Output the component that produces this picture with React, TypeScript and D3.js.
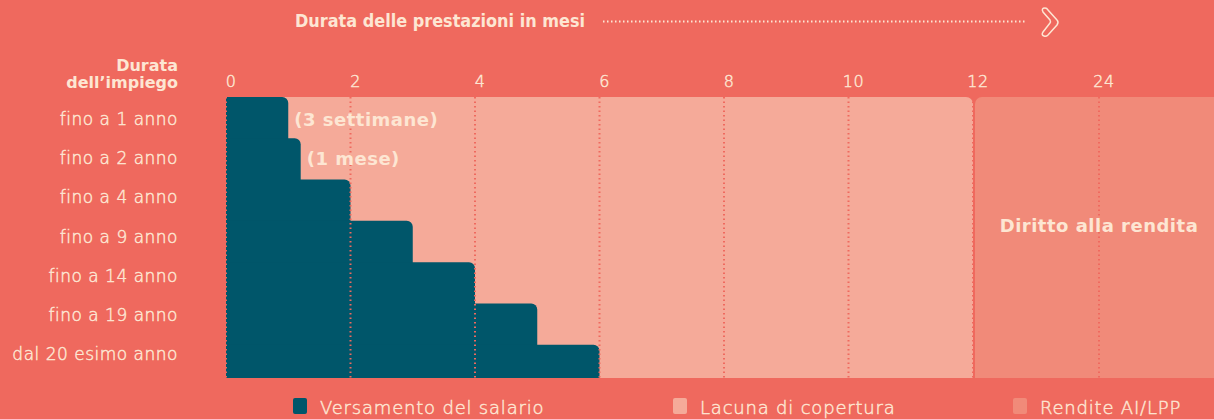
import * as d3 from 'd3';

const categories = [
  'fino a 1 anno',
  'fino a 2 anno',
  'fino a 4 anno',
  'fino a 9 anno',
  'fino a 14 anno',
  'fino a 19 anno',
  'dal 20 esimo anno',
];
// months of salary payment per row
const salaryMonths = [1, 1.2, 2, 3, 4, 5, 6];
const barNotes = ['(3 settimane)', '(1 mese)', '', '', '', '', ''];
const tickValues = [0, 2, 4, 6, 8, 10, 12, 24];
const coverageEnd = 12;

const legendItems = [
  { label: 'Versamento del salario', color: '#00566a' },
  { label: 'Lacuna di copertura', color: '#f5aa99' },
  { label: 'Rendite AI/LPP', color: '#f18a79' },
];

const W = 1214;
const H = 419;
const BG = '#ef695e';
const CREAM = '#fde6d3';
const top = 97;
const bottom = 378;

// rectangle with optional rounded top corners
const roundRect = (x0: number, y0: number, x1: number, y1: number, rl: number, rr: number) => {
  const p = d3.path();
  p.moveTo(x0, y1);
  p.lineTo(x0, y0 + rl);
  if (rl) p.arcTo(x0, y0, x0 + rl, y0, rl);
  p.lineTo(x1 - rr, y0);
  if (rr) p.arcTo(x1, y0, x1, y0 + rr, rr);
  p.lineTo(x1, y1);
  p.closePath();
  return p.toString();
};

export default function App() {
  const x = d3.scaleLinear().domain([0, 12, 24, 36]).range([226, 973, 1099, 1225]);
  const labelY = d3.scaleBand<string>().domain(categories).range([99.5, 373.5]);
  const barY = d3.scaleBand<string>().domain(categories).range([97, 386]);

  const wideFont = "'DejaVu Sans', sans-serif";
  const condFont = "'DejaVu Sans Condensed', 'DejaVu Sans', sans-serif";
  // light text: thin weight thickened slightly with a stroke
  const light = { fill: CREAM, stroke: CREAM, strokeWidth: 0.45, fontFamily: wideFont, fontWeight: 200 };

  return (
    <div style={{ position: 'fixed', left: 0, top: 0 }}>
      <svg width={W} height={H} style={{ display: 'block' }}>
        <rect width={W} height={H} fill={BG} />

        {/* header */}
        <text x={295} y={27} fill={CREAM} fontFamily={condFont} fontWeight={700} fontSize={17.5}
          textLength={290} lengthAdjust="spacingAndGlyphs">
          Durata delle prestazioni in mesi
        </text>
        <line x1={603} x2={1025} y1={21.5} y2={21.5} stroke={CREAM} strokeWidth={2}
          strokeDasharray="1.5,2.5" />
        <path d="M1043,12 Q1041,8 1045,8 Q1047,8 1048,10 L1057,20 Q1059,22 1057,25 L1048,35 Q1046,37 1044,36 Q1041,35 1043,32 L1050,23 Q1051,22 1050,20 Z"
          fill="none" stroke={CREAM} strokeWidth={1.5} />

        {/* y-axis header */}
        <text x={178} y={71} textAnchor="end" fill={CREAM} fontFamily={wideFont} fontWeight={700} fontSize={16}>
          Durata
        </text>
        <text x={178} y={88} textAnchor="end" fill={CREAM} fontFamily={wideFont} fontWeight={700} fontSize={16}>
          dell’impiego
        </text>

        {/* x ticks */}
        {tickValues.map((t) => (
          <text key={t} x={x(t) + 5} y={87} textAnchor="middle" {...light} fontSize={16}
            letterSpacing={0.5}>
            {t}
          </text>
        ))}

        {/* background areas */}
        <path d={roundRect(x(0), top, x(coverageEnd), bottom, 0, 7)} fill="#f5aa99" />
        <path d={roundRect(x(coverageEnd) + 2, top, W + 10, bottom, 7, 0)} fill="#f18a79" />

        {/* salary bars */}
        {categories.map((c, i) => (
          <path key={c}
            d={roundRect(x(0), i === 0 ? top : (barY(c) as number), x(salaryMonths[i]), bottom, 0, 6)}
            fill="#00566a" />
        ))}

        {/* dotted grid */}
        {tickValues.map((t) => (
          <line key={t} x1={x(t)} x2={x(t)} y1={top} y2={bottom}
            stroke={BG} strokeWidth={2} strokeDasharray="1.5,3" />
        ))}

        {/* category labels */}
        {categories.map((c) => (
          <text key={c} x={178} y={(labelY(c) as number) + labelY.bandwidth() / 2 + 6}
            textAnchor="end" {...light} fontSize={17} letterSpacing={0.5}>
            {c}
          </text>
        ))}

        {/* notes */}
        {categories.map((c, i) =>
          barNotes[i] ? (
            <text key={c} x={x(salaryMonths[i]) + 6}
              y={(labelY(c) as number) + labelY.bandwidth() / 2 + 7}
              fill={CREAM} fontFamily={wideFont} fontWeight={700} fontSize={18} letterSpacing={0.5}>
              {barNotes[i]}
            </text>
          ) : null
        )}

        <text x={1099} y={232} textAnchor="middle" fill={CREAM} fontFamily={wideFont}
          fontWeight={700} fontSize={18} letterSpacing={0.5}>
          Diritto alla rendita
        </text>

        {/* legend */}
        {legendItems.map((it, i) => {
          const lx = [293, 673, 1013][i];
          return (
            <g key={it.label}>
              <rect x={lx} y={398} width={14} height={16} rx={2} fill={it.color} />
              <text x={lx + 27} y={414} {...light} fontSize={18} letterSpacing={0.8}>
                {it.label}
              </text>
            </g>
          );
        })}
      </svg>
    </div>
  );
}
